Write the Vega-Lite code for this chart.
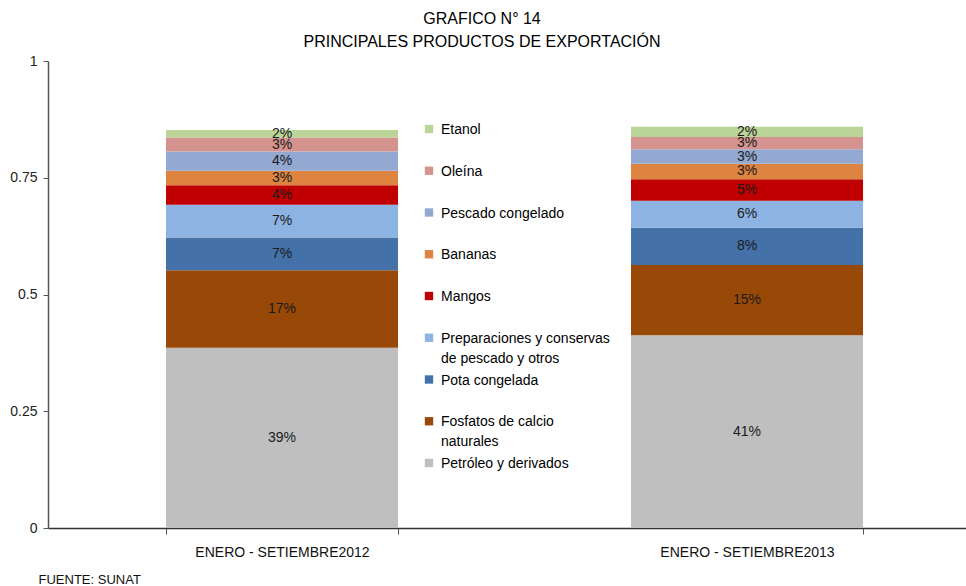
{
  "$schema": "https://vega.github.io/schema/vega-lite/v6.json",
  "width": 918,
  "height": 467,
  "autosize": {"type": "none"},
  "padding": {"left": 48, "top": 61, "right": 0, "bottom": 58},
  "background": "white",
  "config": {
    "view": {"stroke": null},
    "font": "Liberation Sans Narrow, Liberation Sans, Arial",
    "axisY": {
      "grid": true,
      "gridColor": "#9a9a9a",
      "gridOpacity": {"condition": {"test": "datum.value === 1", "value": 1}, "value": 0},
      "domainColor": "#555",
      "domainWidth": 1.5,
      "tickColor": "#555",
      "tickSize": 5,
      "labelFontSize": 14,
      "labelColor": "#222",
      "labelPadding": 6
    }
  },
  "title": {
    "text": ["GRAFICO N° 14", "PRINCIPALES PRODUCTOS DE EXPORTACIÓN"],
    "fontSize": 16,
    "fontWeight": "normal",
    "color": "black",
    "anchor": "middle",
    "dx": -25,
    "offset": 4,
    "lineHeight": 23
  },
  "data": {
    "values": [
      {"periodo": "ENERO - SETIEMBRE2012", "producto": "Petróleo y derivados", "valor": 0.386, "orden": 1},
      {"periodo": "ENERO - SETIEMBRE2012", "producto": "Fosfatos de calcio naturales", "valor": 0.166, "orden": 2},
      {"periodo": "ENERO - SETIEMBRE2012", "producto": "Pota congelada", "valor": 0.070, "orden": 3},
      {"periodo": "ENERO - SETIEMBRE2012", "producto": "Preparaciones y conservas de pescado y otros", "valor": 0.070, "orden": 4},
      {"periodo": "ENERO - SETIEMBRE2012", "producto": "Mangos", "valor": 0.042, "orden": 5},
      {"periodo": "ENERO - SETIEMBRE2012", "producto": "Bananas", "valor": 0.031, "orden": 6},
      {"periodo": "ENERO - SETIEMBRE2012", "producto": "Pescado congelado", "valor": 0.041, "orden": 7},
      {"periodo": "ENERO - SETIEMBRE2012", "producto": "Oleína", "valor": 0.030, "orden": 8},
      {"periodo": "ENERO - SETIEMBRE2012", "producto": "Etanol", "valor": 0.016, "orden": 9},
      {"periodo": "ENERO - SETIEMBRE2013", "producto": "Petróleo y derivados", "valor": 0.413, "orden": 1},
      {"periodo": "ENERO - SETIEMBRE2013", "producto": "Fosfatos de calcio naturales", "valor": 0.150, "orden": 2},
      {"periodo": "ENERO - SETIEMBRE2013", "producto": "Pota congelada", "valor": 0.080, "orden": 3},
      {"periodo": "ENERO - SETIEMBRE2013", "producto": "Preparaciones y conservas de pescado y otros", "valor": 0.058, "orden": 4},
      {"periodo": "ENERO - SETIEMBRE2013", "producto": "Mangos", "valor": 0.046, "orden": 5},
      {"periodo": "ENERO - SETIEMBRE2013", "producto": "Bananas", "valor": 0.033, "orden": 6},
      {"periodo": "ENERO - SETIEMBRE2013", "producto": "Pescado congelado", "valor": 0.031, "orden": 7},
      {"periodo": "ENERO - SETIEMBRE2013", "producto": "Oleína", "valor": 0.026, "orden": 8},
      {"periodo": "ENERO - SETIEMBRE2013", "producto": "Etanol", "valor": 0.022, "orden": 9}
    ]
  },
  "encoding": {
    "x": {
      "field": "periodo",
      "type": "nominal",
      "scale": {"paddingInner": 0.501, "paddingOuter": 0.2376, "align": 0.534},
      "axis": {
        "title": "FUENTE: SUNAT",
        "titleX": -10,
        "titleY": 55,
        "titleAlign": "left",
        "titleBaseline": "alphabetic",
        "titleFontSize": 13,
        "titleFontWeight": "normal",
        "titleColor": "#111",
        "labelAngle": 0,
        "labelFontSize": 14,
        "labelColor": "#111",
        "labelPadding": 11,
        "tickBand": "extent",
        "tickSize": 6,
        "tickColor": "#555",
        "domainColor": "#333",
        "domainWidth": 1.5
      }
    },
    "order": {"field": "orden", "type": "quantitative"}
  },
  "layer": [
    {
      "mark": {"type": "bar"},
      "encoding": {
        "y": {
          "field": "valor",
          "type": "quantitative",
          "stack": "zero",
          "scale": {"domain": [0, 1]},
          "axis": {"title": null, "values": [0, 0.25, 0.5, 0.75, 1], "format": ".2~f"}
        },
        "color": {
          "field": "producto",
          "type": "nominal",
          "scale": {
            "domain": ["Etanol", "Oleína", "Pescado congelado", "Bananas", "Mangos", "Preparaciones y conservas de pescado y otros", "Pota congelada", "Fosfatos de calcio naturales", "Petróleo y derivados"],
            "range": ["#BBD498", "#D59390", "#93A9D1", "#DC8440", "#C00000", "#8DB3E2", "#4472A8", "#984807", "#BFBFBF"]
          },
          "legend": {
            "orient": "none",
            "legendX": 374,
            "legendY": 61,
            "title": null,
            "symbolType": "square",
            "symbolSize": 70,
            "symbolStrokeWidth": 0,
            "labelFontSize": 14,
            "labelColor": "black",
            "labelLimit": 300,
            "labelOffset": 5,
            "labelBaseline": "alphabetic",
            "gridAlign": "all",
            "rowPadding": 6.75,
            "labelExpr": "datum.label == 'Preparaciones y conservas de pescado y otros' ? ['Preparaciones y conservas', 'de pescado y otros'] : datum.label == 'Fosfatos de calcio naturales' ? ['Fosfatos de calcio', 'naturales'] : datum.label",
            "encode": {
              "labels": {"update": {"dy": {"value": 5}, "lineHeight": {"value": 20}}}
            }
          }
        }
      }
    },
    {
      "transform": [
        {"stack": "valor", "groupby": ["periodo"], "sort": [{"field": "orden", "order": "ascending"}], "as": ["v0", "v1"]},
        {"calculate": "(datum.v0 + datum.v1) / 2", "as": "medio"}
      ],
      "mark": {"type": "text", "fontSize": 14, "color": "#1a1a1a", "baseline": "middle"},
      "encoding": {
        "y": {"field": "medio", "type": "quantitative", "axis": {"title": null, "values": [0, 0.25, 0.5, 0.75, 1], "format": ".2~f"}},
        "text": {"field": "valor", "type": "quantitative", "format": ".0%"}
      }
    }
  ]
}
